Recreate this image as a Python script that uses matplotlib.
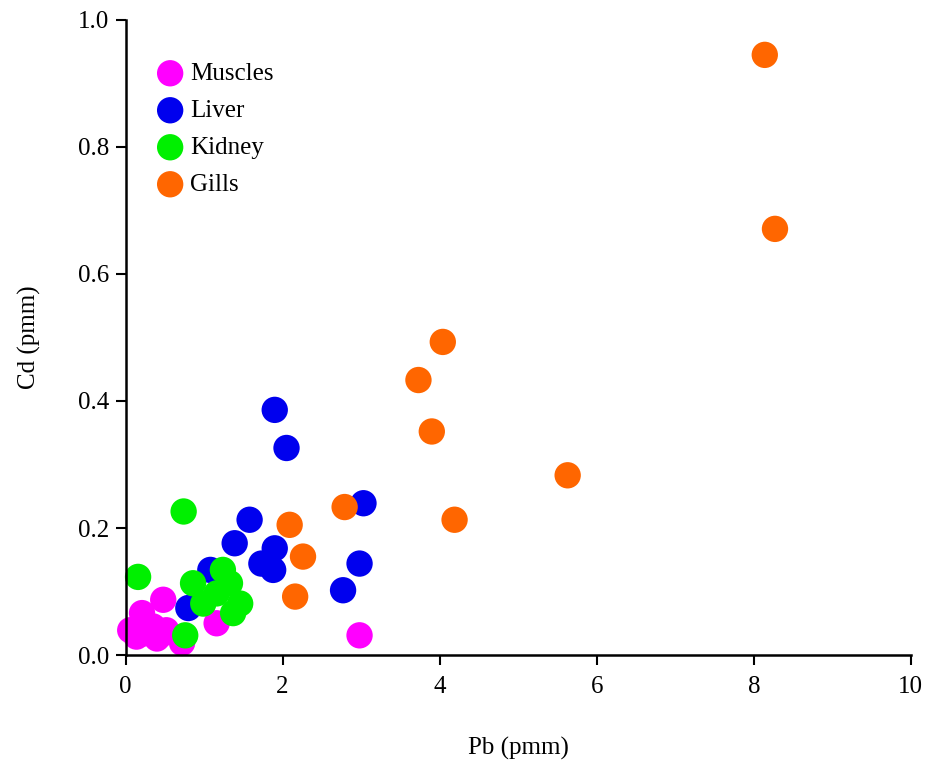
import matplotlib
matplotlib.use("Agg")
import matplotlib.pyplot as plt

plt.rcParams['font.family'] = ['Liberation Serif', 'DejaVu Serif']

series_names = ["Muscles", "Liver", "Kidney", "Gills"]
series_colors = ["#FF00FF", "#0000EE", "#00F000", "#FF6600"]

muscles_x = [0.06, 0.14, 0.21, 0.10, 0.35, 0.40, 0.48, 0.52, 0.44, 0.72, 0.23, 1.16, 2.98]
muscles_y = [0.039, 0.029, 0.066, 0.039, 0.045, 0.026, 0.087, 0.039, 0.031, 0.019, 0.034, 0.050, 0.031]

liver_x = [1.90, 2.05, 3.03, 1.58, 1.39, 1.90, 1.73, 1.88, 2.98, 2.77, 1.08, 0.80]
liver_y = [0.386, 0.326, 0.239, 0.213, 0.176, 0.168, 0.144, 0.134, 0.144, 0.102, 0.134, 0.074]

kidney_x = [0.74, 0.16, 0.86, 1.24, 1.33, 0.99, 1.16, 1.46, 1.37, 0.76]
kidney_y = [0.226, 0.123, 0.113, 0.134, 0.113, 0.081, 0.097, 0.081, 0.066, 0.031]

gills_x = [8.14, 8.27, 4.04, 3.73, 3.90, 5.63, 4.19, 2.09, 2.79, 2.26, 2.16]
gills_y = [0.945, 0.671, 0.493, 0.433, 0.352, 0.283, 0.213, 0.205, 0.233, 0.155, 0.092]

x_ticks = [0, 2, 4, 6, 8, 10]
y_ticks = [0.0, 0.2, 0.4, 0.6, 0.8, 1.0]
y_tick_labels = ["0.0", "0.2", "0.4", "0.6", "0.8", "1.0"]

fig = plt.figure(figsize=(9.25, 7.67), dpi=100)
ax = fig.add_axes([0.1357, 0.146, 0.849, 0.828])

data = [(muscles_x, muscles_y), (liver_x, liver_y), (kidney_x, kidney_y), (gills_x, gills_y)]
for (xs, ys), name, col in zip(data, series_names, series_colors):
    ax.scatter(xs, ys, s=360, c=col, label=name, edgecolors='none', clip_on=False)

ax.set_xlim(0, 10)
ax.set_ylim(0, 1.0)
ax.set_xticks(x_ticks)
ax.set_xticklabels([str(t) for t in x_ticks])
ax.set_yticks(y_ticks)
ax.set_yticklabels(y_tick_labels)
ax.spines['top'].set_visible(False)
ax.spines['right'].set_visible(False)
ax.spines['left'].set_linewidth(1.8)
ax.spines['bottom'].set_linewidth(1.8)
ax.tick_params(direction='out', length=7, width=1.5, labelsize=18)
ax.tick_params(axis='x', pad=8)
ax.tick_params(axis='y', pad=5)

ax.set_xlabel("Pb (pmm)", fontsize=18, labelpad=28)
ax.set_ylabel("Cd (pmm)", fontsize=18, labelpad=26)

leg = ax.legend(loc='upper left', bbox_to_anchor=(0.025, 0.949), frameon=False,
                fontsize=18, handlelength=1.2, handletextpad=0.2, labelspacing=0.58,
                markerscale=1.0, borderaxespad=0.0, scatterpoints=1)

fig.savefig("out.png", dpi=100)
